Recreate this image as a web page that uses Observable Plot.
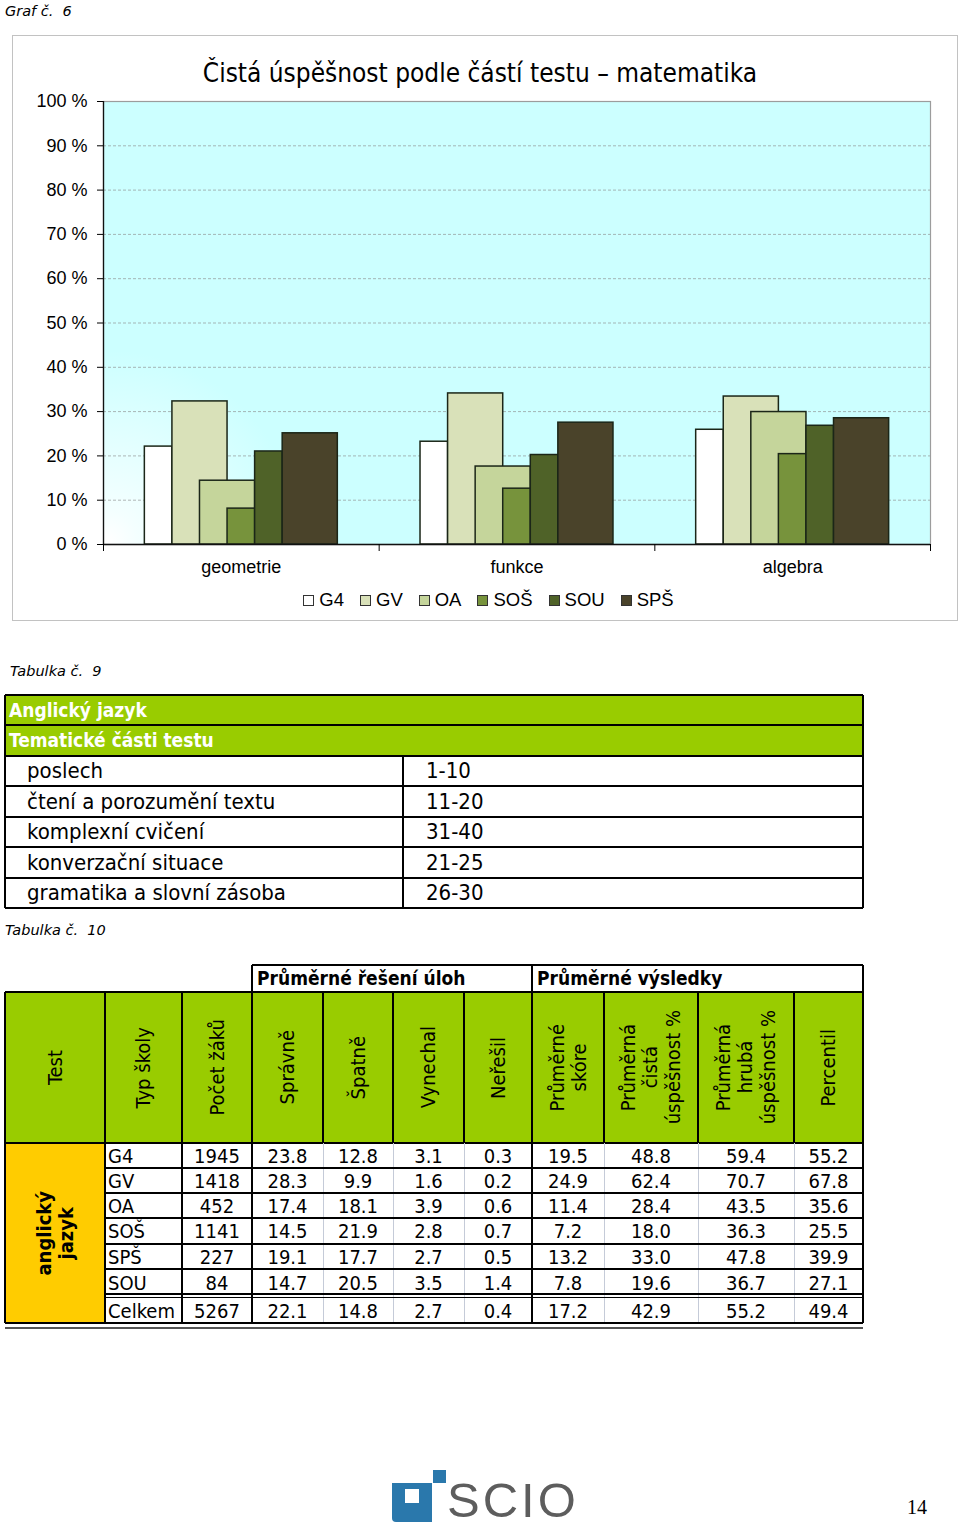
<!DOCTYPE html>
<html lang="cs"><head><meta charset="utf-8"><title>Graf č. 6</title>
<script src="https://cdn.jsdelivr.net/npm/d3@7"></script>
<script src="https://cdn.jsdelivr.net/npm/@observablehq/plot@0.6"></script>
<style>
html,body{margin:0;padding:0;background:#fff;}
#page{position:relative;width:960px;height:1526px;overflow:hidden;font-family:"DejaVu Sans Condensed","DejaVu Sans",sans-serif;color:#000;}
.abs{position:absolute;box-sizing:border-box;}
.cap{font-family:"DejaVu Sans",Verdana,sans-serif;font-style:italic;font-size:14.5px;white-space:pre;line-height:1;}
.cell{display:flex;align-items:center;white-space:pre;line-height:1;}
.vert{writing-mode:vertical-rl;transform:rotate(180deg);text-align:center;line-height:1.12;white-space:pre;}
.leg{display:flex;justify-content:center;align-items:center;font-family:"Liberation Sans",Arial,sans-serif;font-size:18.5px;}
.leg span.sw{display:inline-block;width:9px;height:9px;border:1px solid #333;margin-right:5px;}
.leg span.it{display:inline-flex;align-items:center;margin:0 8px;}
</style></head>
<body><div id="page"></div>
<script>
// ---------- Chart data (Graf č. 6) ----------
const categories = ["geometrie", "funkce", "algebra"];
const schoolTypes = ["G4", "GV", "OA", "SOŠ", "SOU", "SPŠ"];
const seriesG4  = [22.1, 23.2, 25.9];
const seriesGV  = [32.3, 34.1, 33.4];
const seriesOA  = [14.4, 17.6, 29.9];
const seriesSOS = [8.1, 12.6, 20.4];
const seriesSOU = [21.0, 20.2, 26.8];
const seriesSPS = [25.1, 27.5, 28.5];
const yTicks = [0, 10, 20, 30, 40, 50, 60, 70, 80, 90, 100];

// ---------- Tabulka č. 9 ----------
const topics = ["poslech", "čtení a porozumění textu", "komplexní cvičení", "konverzační situace", "gramatika a slovní zásoba"];
const topicItems = ["1-10", "11-20", "31-40", "21-25", "26-30"];

// ---------- Tabulka č. 10 ----------
const headers10 = ["Test", "Typ školy", "Počet žáků", "Správně", "Špatně", "Vynechal", "Neřešil",
  "Průměrné\nskóre", "Průměrná\nčistá\núspěšnost %", "Průměrná\nhrubá\núspěšnost %", "Percentil"];
const rowTypes = ["G4", "GV", "OA", "SOŠ", "SPŠ", "SOU", "Celkem"];
const pocetZaku = [1945, 1418, 452, 1141, 227, 84, 5267];
const spravne = [23.8, 28.3, 17.4, 14.5, 19.1, 14.7, 22.1];
const spatne = [12.8, 9.9, 18.1, 21.9, 17.7, 20.5, 14.8];
const vynechal = [3.1, 1.6, 3.9, 2.8, 2.7, 3.5, 2.7];
const neresil = [0.3, 0.2, 0.6, 0.7, 0.5, 1.4, 0.4];
const prumSkore = [19.5, 24.9, 11.4, 7.2, 13.2, 7.8, 17.2];
const cistaUsp = [48.8, 62.4, 28.4, 18.0, 33.0, 19.6, 42.9];
const hrubaUsp = [59.4, 70.7, 43.5, 36.3, 47.8, 36.7, 55.2];
const percentil = [55.2, 67.8, 35.6, 25.5, 39.9, 27.1, 49.4];

// ---------- styles / layout ----------
const barColors = ["#ffffff", "#d9e1b9", "#c5d59b", "#77933c", "#4f6228", "#4a432a"];
const slotStart = [1.5, 2.5, 3.5, 4.5, 5.5, 6.5];
const slotSpan = [1, 2, 2, 1, 1, 2];
const slot = 0.1;

const page = document.getElementById("page");
function box(css, text, cls) {
  const d = document.createElement("div");
  d.className = "abs" + (cls ? " " + cls : "");
  d.style.cssText += css;
  if (text != null) d.textContent = text;
  page.appendChild(d);
  return d;
}
function hline(x1, x2, y, w, c) { box(`left:${x1}px;top:${y - w / 2}px;width:${x2 - x1}px;height:${w}px;background:${c};`); }
function vline(x, y1, y2, w, c) { box(`left:${x - w / 2}px;top:${y1}px;width:${w}px;height:${y2 - y1}px;background:${c};`); }

// ---------- Chart ----------
box("left:5px;top:4px;", "Graf č.  6", "cap");
box("left:12px;top:35px;width:946px;height:586px;border:1.5px solid #c2c2c2;");
box("left:0;top:58px;width:960px;text-align:center;font-size:26px;line-height:1.2;", "Čistá úspěšnost podle částí testu – matematika");

const seriesValues = [seriesG4, seriesGV, seriesOA, seriesSOS, seriesSOU, seriesSPS];
const bars = [];
schoolTypes.forEach((t, s) => {
  seriesValues[s].forEach((v, i) => {
    bars.push({category: categories[i], type: t, value: v,
      x1: i + slotStart[s] * slot, x2: i + (slotStart[s] + slotSpan[s]) * slot});
  });
});

const chart = Plot.plot({
  width: 946, height: 549,
  marginTop: 66, marginLeft: 91, marginRight: 28, marginBottom: 40,
  style: {fontFamily: "'Liberation Sans', Arial, sans-serif", fontSize: "18px", color: "#000", background: "transparent", overflow: "visible"},
  x: {domain: [0, categories.length], axis: null},
  y: {domain: [0, 100], axis: null},
  color: {domain: schoolTypes, range: barColors},
  marks: [
    Plot.frame({fill: "url(#bgGlow)", stroke: "#9c9c9c", strokeWidth: 1.2}),
    Plot.gridY({ticks: yTicks.slice(1, -1), stroke: "#8a8a8a", strokeOpacity: 0.9, strokeDasharray: "3,2", strokeWidth: 0.7}),
    Plot.rect(bars, {x1: "x1", x2: "x2", y1: 0, y2: "value", fill: "type", stroke: "#1b2618", strokeWidth: 1.5}),
    Plot.ruleX([0], {stroke: "#111", strokeWidth: 1.3}),
    Plot.ruleY([0], {stroke: "#111", strokeWidth: 1.3}),
    Plot.axisY({ticks: yTicks, tickFormat: d => `${d} %`, tickSize: 6, tickPadding: 10, fontSize: 18, label: null}),
    Plot.axisX({ticks: d3.range(categories.length + 1), tickSize: 7, tickFormat: () => "", label: null}),
    Plot.axisX({ticks: categories.map((c, i) => i + 0.5), tickSize: 0, tickPadding: 16, fontSize: 18, label: null,
      tickFormat: d => categories[Math.floor(d)]})
  ]
});
const defs = d3.select(chart).insert("defs", ":first-child");
const grad = defs.append("radialGradient").attr("id", "bgGlow")
  .attr("gradientUnits", "userSpaceOnUse").attr("cx", 96).attr("cy", 505).attr("r", 190);
grad.append("stop").attr("offset", 0).attr("stop-color", "#ffffff");
grad.append("stop").attr("offset", 0.15).attr("stop-color", "#f4ffff");
grad.append("stop").attr("offset", 1).attr("stop-color", "#ccffff");
chart.style.position = "absolute";
chart.style.left = "12px";
chart.style.top = "35px";
page.appendChild(chart);

// legend
const leg = box("left:0;top:589px;width:977px;height:22px;", null, "leg");
schoolTypes.forEach((t, i) => {
  const it = document.createElement("span"); it.className = "it";
  const sw = document.createElement("span"); sw.className = "sw"; sw.style.background = barColors[i];
  it.appendChild(sw); it.appendChild(document.createTextNode(t));
  leg.appendChild(it);
});

// ---------- Tabulka č. 9 ----------
box("left:10px;top:664px;", "Tabulka č.  9", "cap");
const t9Rows = [695, 725, 756, 786, 817, 847, 878, 908];
box(`left:5px;top:${t9Rows[0]}px;width:858px;height:${t9Rows[2] - t9Rows[0]}px;background:#99cc00;`);
["Anglický jazyk", "Tematické části testu"].forEach((h, i) => {
  box(`left:9px;top:${t9Rows[i]}px;height:${t9Rows[i + 1] - t9Rows[i]}px;color:#fff;font-weight:bold;font-size:19px;`, h, "cell");
});
topics.forEach((tp, i) => {
  const y = t9Rows[i + 2], h = t9Rows[i + 3] - y;
  box(`left:27px;top:${y}px;height:${h}px;font-size:22px;`, tp, "cell");
  box(`left:426px;top:${y}px;height:${h}px;font-size:22px;`, topicItems[i], "cell");
});
t9Rows.forEach(y => hline(5, 863, y, 2, "#000"));
vline(5, t9Rows[0], t9Rows[7], 2, "#000");
vline(863, t9Rows[0], t9Rows[7], 2, "#000");
vline(403, t9Rows[2], t9Rows[7], 2, "#000");

// ---------- Tabulka č. 10 ----------
box("left:5px;top:923px;", "Tabulka č.  10", "cap");
const colX = [5, 105, 182, 252, 323, 393, 464, 532, 604, 698, 794, 863];
const gTop = 965, hTop = 992, hBot = 1143;
const rowY = [1143, 1168, 1193, 1218, 1244, 1269, 1296, 1323];

box(`left:${colX[3]}px;top:${gTop}px;width:${colX[11] - colX[3]}px;height:${hTop - gTop}px;background:#fff;`);
box(`left:${colX[3] + 5}px;top:${gTop}px;height:${hTop - gTop}px;font-weight:bold;font-size:19px;`, "Průměrné řešení úloh", "cell");
box(`left:${colX[7] + 5}px;top:${gTop}px;height:${hTop - gTop}px;font-weight:bold;font-size:19px;`, "Průměrné výsledky", "cell");

box(`left:${colX[0]}px;top:${hTop}px;width:${colX[11] - colX[0]}px;height:${hBot - hTop}px;background:#99cc00;`);
headers10.forEach((h, i) => {
  const c = box(`left:${colX[i]}px;top:${hTop}px;width:${colX[i + 1] - colX[i]}px;height:${hBot - hTop}px;justify-content:center;font-size:20px;`, null, "cell");
  const v = document.createElement("div"); v.className = "vert"; v.textContent = h; c.appendChild(v);
});

// yellow test cell
const yc = box(`left:${colX[0]}px;top:${rowY[0]}px;width:${colX[1] - colX[0]}px;height:${rowY[7] - rowY[0]}px;background:#ffcc00;justify-content:center;font-size:20px;font-weight:bold;`, null, "cell");
const yv = document.createElement("div"); yv.className = "vert"; yv.textContent = "anglický\njazyk"; yc.appendChild(yv);

const numCols = [pocetZaku, spravne, spatne, vynechal, neresil, prumSkore, cistaUsp, hrubaUsp, percentil];
rowTypes.forEach((t, r) => {
  const y = rowY[r] + (r === 6 ? 2 : 0), h = rowY[r + 1] - rowY[r] - (r === 6 ? 2 : 0);
  box(`left:${colX[1] + 3}px;top:${y}px;height:${h}px;font-size:20px;`, t, "cell");
  numCols.forEach((arr, k) => {
    const v = arr[r];
    const txt = k === 0 ? String(v) : v.toFixed(1);
    box(`left:${colX[k + 2]}px;top:${y}px;width:${colX[k + 3] - colX[k + 2]}px;height:${h}px;justify-content:center;font-size:20px;`, txt, "cell");
  });
});

// lines table 10
hline(colX[3], colX[11], gTop, 2, "#000");
[3, 7, 11].forEach(i => vline(colX[i], gTop, hTop, 2, "#000"));
hline(colX[0], colX[11], hTop, 2.5, "#000");
colX.forEach(x => vline(x, hTop, hBot, 2, "#000"));
hline(colX[0], colX[11], hBot, 2, "#000");
const thick = [0, 1, 2, 3, 7, 11];
colX.forEach((x, i) => {
  if (thick.includes(i)) vline(x, hBot, rowY[7], i === 0 ? 2 : 2.5, "#000");
  else vline(x, hBot, rowY[7], 1, "#c5cbd8");
});
for (let r = 1; r <= 5; r++) hline(colX[1], colX[11], rowY[r], 1.5, "#000");
hline(colX[1], colX[11], rowY[6] - 2, 1.3, "#000");
hline(colX[1], colX[11], rowY[6] + 1.5, 1.3, "#000");
hline(colX[0], colX[11], rowY[7], 2.5, "#000");
hline(colX[0], colX[11], rowY[7] + 5, 1.5, "#555");

// ---------- footer logo & page number ----------
box("left:392px;top:1483px;width:40px;height:39px;background:#2a78ac;border-radius:0 0 0 4px;");
box("left:405px;top:1489px;width:14px;height:14px;background:#fff;");
box("left:433px;top:1470px;width:13px;height:13px;background:#2a78ac;");
box("left:447px;top:1476px;font-family:'Liberation Sans',Arial,sans-serif;font-size:49px;line-height:1;color:#5d5d5d;letter-spacing:3px;", "SCIO");
box("left:907px;top:1497px;font-family:'Liberation Serif','DejaVu Serif',serif;font-size:20px;line-height:1;", "14");
</script>
</body></html>
